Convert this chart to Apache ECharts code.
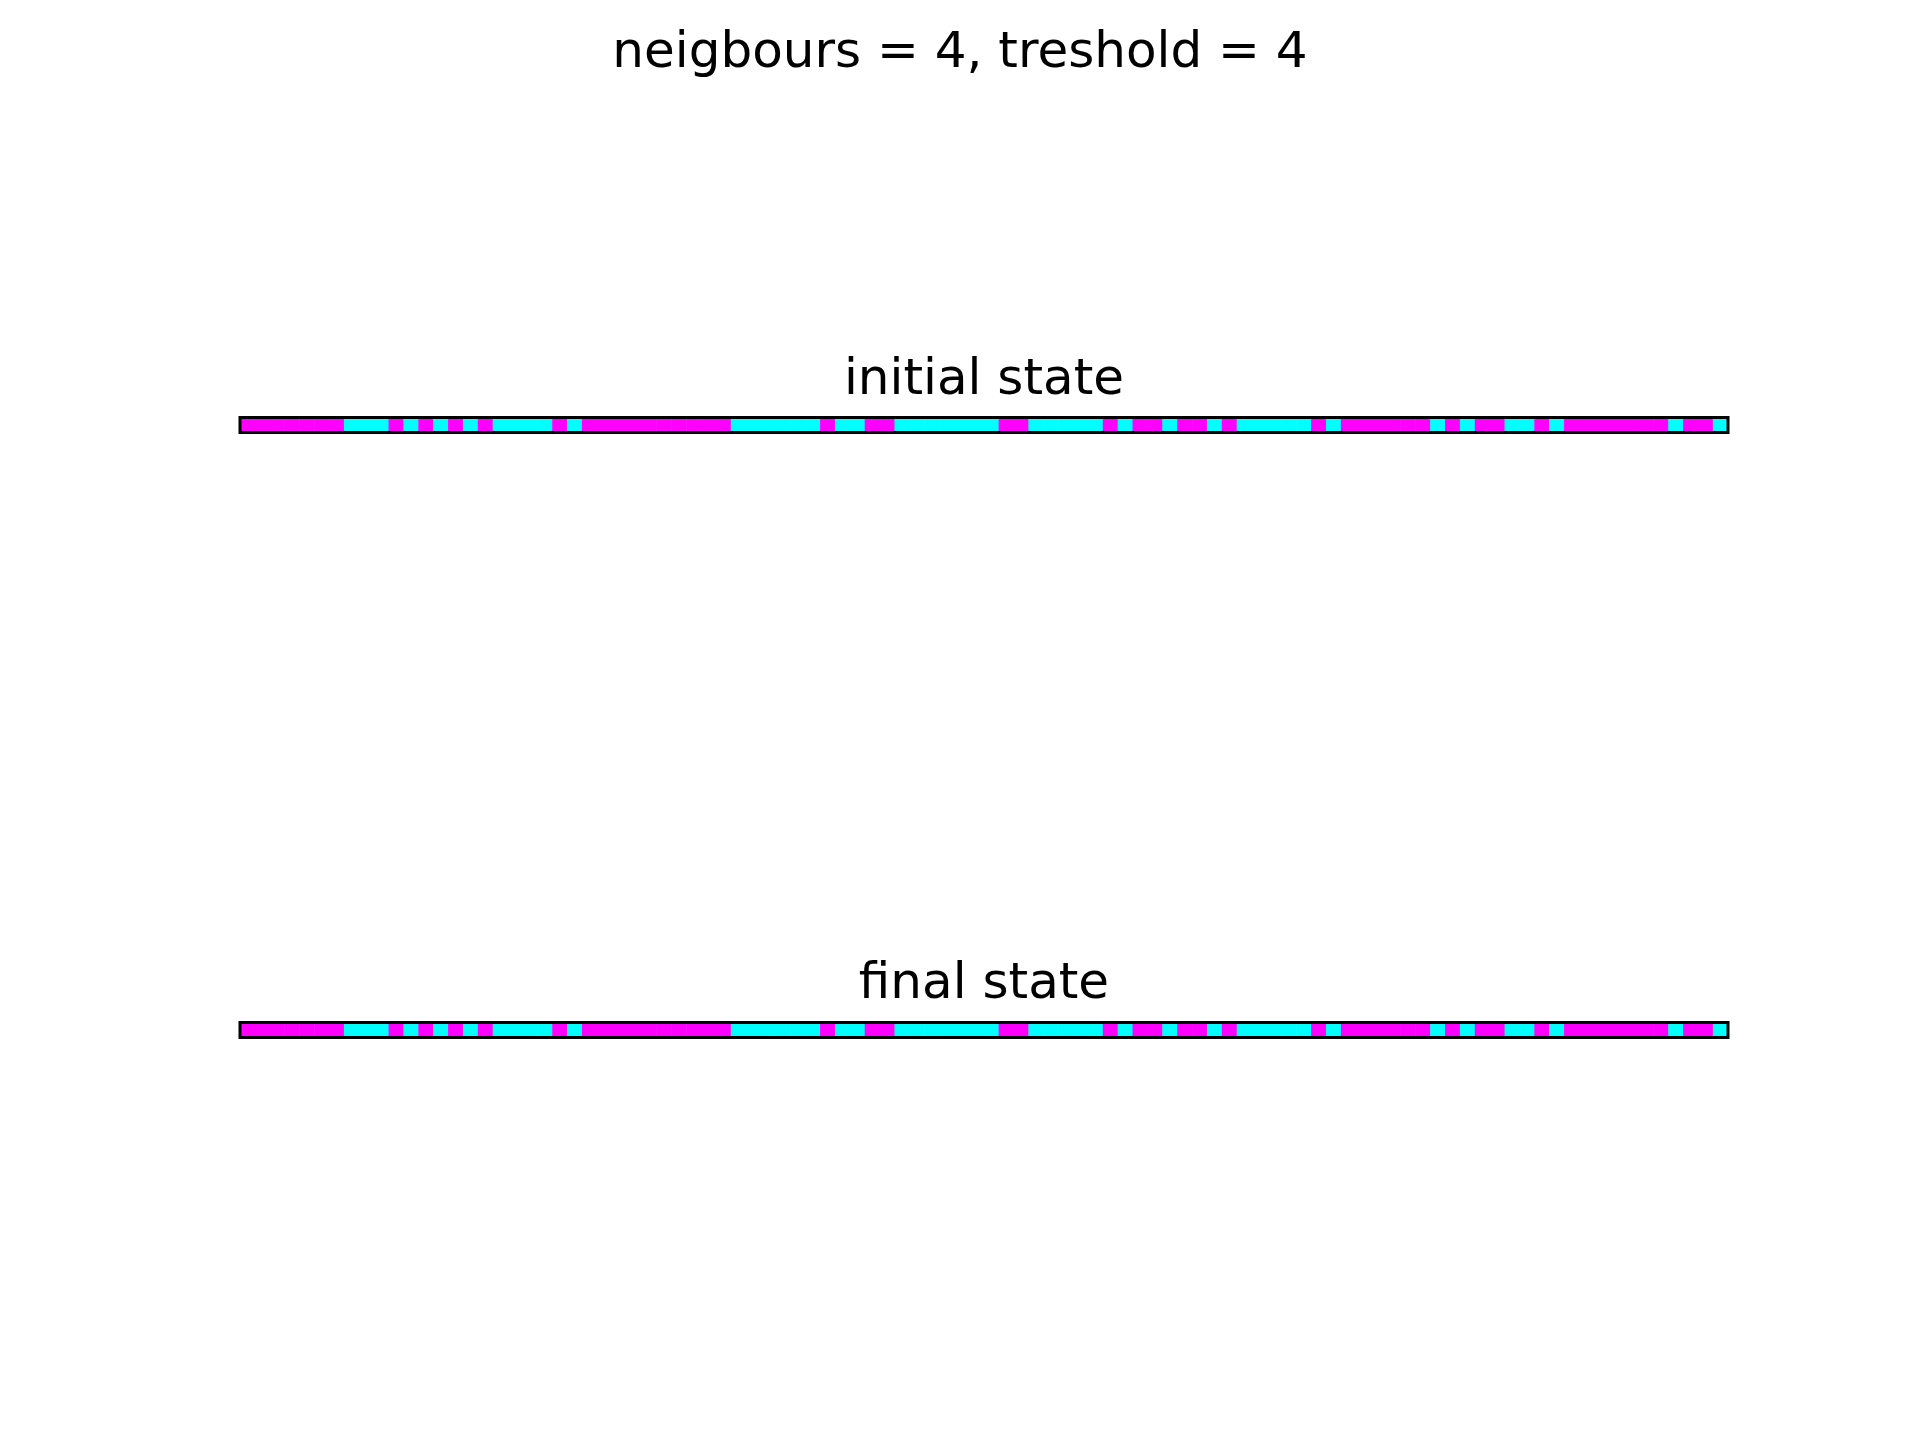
<!DOCTYPE html>
<html>
<head>
<meta charset="utf-8">
<script src="https://cdn.jsdelivr.net/npm/echarts@6/dist/echarts.min.js"></script>
<style>
html,body{margin:0;padding:0;background:#fff;}
#chart{width:1920px;height:1440px;}
</style>
</head>
<body>
<div id="chart"></div>
<script>
// 1 = magenta, 0 = cyan
const initialState = [
  1,1,1,1,1,1,1,0,0,0,
  1,0,1,0,1,0,1,0,0,0,
  0,1,0,1,1,1,1,1,1,1,
  1,1,1,0,0,0,0,0,0,1,
  0,0,1,1,0,0,0,0,0,0,
  0,1,1,0,0,0,0,0,1,0,
  1,1,0,1,1,0,1,0,0,0,
  0,0,1,0,1,1,1,1,1,1,
  0,1,0,1,1,0,0,1,0,1,
  1,1,1,1,1,1,0,1,1,0
];
const finalState = [
  1,1,1,1,1,1,1,0,0,0,
  1,0,1,0,1,0,1,0,0,0,
  0,1,0,1,1,1,1,1,1,1,
  1,1,1,0,0,0,0,0,0,1,
  0,0,1,1,0,0,0,0,0,0,
  0,1,1,0,0,0,0,0,1,0,
  1,1,0,1,1,0,1,0,0,0,
  0,0,1,0,1,1,1,1,1,1,
  0,1,0,1,1,0,0,1,0,1,
  1,1,1,1,1,1,0,1,1,0
];
const cellIndex = initialState.map((_, i) => String(i));
const rowLabels = ['0'];
const suptitle = 'neigbours = 4, treshold = 4';
const panelTitles = ['initial state', 'final state'];

const FONT = 'DejaVu Sans';
const chart = echarts.init(document.getElementById('chart'), null, {renderer: 'canvas'});

function toHeat(arr) { return arr.map((v, i) => [i, 0, v]); }

const gridTops = [417.5, 1022.5];
const titleTops = [351, 955.5];

const option = {
  backgroundColor: '#ffffff',
  animation: false,
  title: [
    {text: suptitle, left: 'center', top: 24.5,
     textStyle: {fontFamily: FONT, fontSize: 50, fontWeight: 'normal', color: '#000'}},
    {text: panelTitles[0], left: 979, textAlign: 'center', top: titleTops[0],
     textStyle: {fontFamily: FONT, fontSize: 50, fontWeight: 'normal', color: '#000'}},
    {text: panelTitles[1], left: 979, textAlign: 'center', top: titleTops[1],
     textStyle: {fontFamily: FONT, fontSize: 50, fontWeight: 'normal', color: '#000'}}
  ],
  grid: gridTops.map(t => ({
    left: 240, width: 1488, top: t, height: 14.88,
    show: true, borderColor: '#000', borderWidth: 3, backgroundColor: 'transparent', z: 5
  })),
  xAxis: [0, 1].map(g => ({
    type: 'category', gridIndex: g, data: cellIndex, boundaryGap: true,
    axisLine: {show: false}, axisTick: {show: false}, axisLabel: {show: false}, splitLine: {show: false}
  })),
  yAxis: [0, 1].map(g => ({
    type: 'category', gridIndex: g, data: rowLabels,
    axisLine: {show: false}, axisTick: {show: false}, axisLabel: {show: false}, splitLine: {show: false}
  })),
  visualMap: {
    type: 'piecewise', show: false, dimension: 2, seriesIndex: [0, 1],
    pieces: [{value: 1, color: '#ff00ff'}, {value: 0, color: '#00ffff'}]
  },
  series: [
    {type: 'heatmap', xAxisIndex: 0, yAxisIndex: 0, data: toHeat(initialState), z: 2,
     itemStyle: {borderWidth: 0}, emphasis: {disabled: true}},
    {type: 'heatmap', xAxisIndex: 1, yAxisIndex: 1, data: toHeat(finalState), z: 2,
     itemStyle: {borderWidth: 0}, emphasis: {disabled: true}}
  ]
};
chart.setOption(option);
</script>
</body>
</html>
